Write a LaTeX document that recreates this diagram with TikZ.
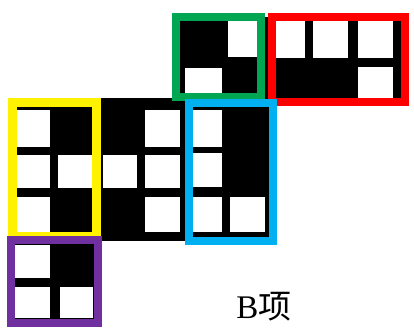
\documentclass[tikz,border=0pt]{standalone}
\usepackage{fontspec}
\newfontfamily\cjkfont{Noto Sans CJK SC}
\newfontfamily\tnrfont{Liberation Serif}
\definecolor{bgreen}{RGB}{0,166,81}
\definecolor{bred}{RGB}{255,0,0}
\definecolor{byellow}{RGB}{255,242,0}
\definecolor{bblue}{RGB}{0,176,240}
\definecolor{bpurple}{RGB}{112,48,160}
\tikzset{
  blk/.style={fill=black},
  wht/.style={fill=white},
  frame/.style={line width=8pt},
  lbl/.style={font=\fontsize{33}{38}\selectfont, inner sep=0pt}
}
\begin{document}
\begin{tikzpicture}[x=1pt,y=-1pt]
\useasboundingbox (0,0) rectangle (414,327);
% black regions
\fill[blk] (176,17) rectangle (401,102);
\fill[blk] (12,98) rectangle (273,241);
\fill[blk] (11,240) rectangle (97.5,322.5);
% white squares: green block
\fill[wht] (228,21) rectangle (257,57);
\fill[wht] (185,68) rectangle (222,95);
% red block
\fill[wht] (276,21) rectangle (305,58);
\fill[wht] (313,21) rectangle (348,58);
\fill[wht] (358,21) rectangle (393,58);
\fill[wht] (358,67) rectangle (393,98);
% yellow block
\fill[wht] (17,110) rectangle (50,147);
\fill[wht] (17,155) rectangle (50,188);
\fill[wht] (17,197) rectangle (50,233);
\fill[wht] (58,155) rectangle (92,188);
% middle columns
\fill[wht] (103,155) rectangle (137,188);
\fill[wht] (145,110) rectangle (180,147);
\fill[wht] (145,155) rectangle (180,188);
\fill[wht] (145,197) rectangle (180,232);
% blue block
\fill[wht] (193,110) rectangle (222,147);
\fill[wht] (193,153) rectangle (222,187);
\fill[wht] (193,197) rectangle (222,232);
\fill[wht] (230,197) rectangle (265,232);
% purple block
\fill[wht] (15,245) rectangle (50,278);
\fill[wht] (15,287) rectangle (50,318);
\fill[wht] (60,287) rectangle (93,318);
% frames
\draw[frame, bgreen] (175.5,17) rectangle (261,97);
\draw[frame, bred] (272,16.5) rectangle (405,102);
\draw[frame, byellow, line width=9pt] (12,102.5) rectangle (96,236);
\draw[frame, bblue] (189,102.5) rectangle (273,241);
\draw[frame, bpurple] (11,240) rectangle (97.5,322.5);
% label
\node[lbl, anchor=base] (label) at (264,318) {{\tnrfont B}{\cjkfont 项}};
\end{tikzpicture}
\end{document}
